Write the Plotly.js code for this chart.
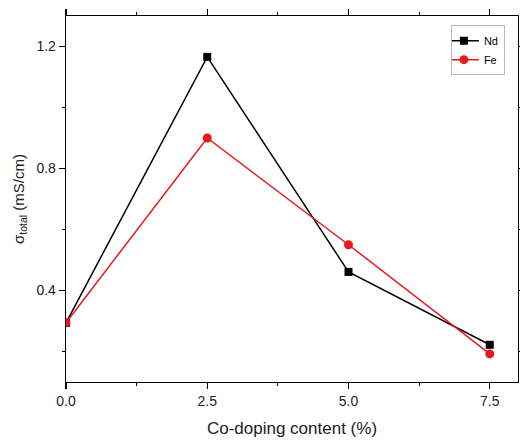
<!DOCTYPE html>
<html><head><meta charset="utf-8">
<script src="https://cdn.plot.ly/plotly-3.0.1.min.js"></script>
<style>body{margin:0;background:#fff}#c{width:520px;height:441px}</style>
</head><body><div id="c"></div>
<script>
const content = [0, 2.5, 5.0, 7.5];
const ndValues = [0.294, 1.166, 0.461, 0.222];
const feValues = [0.294, 0.900, 0.550, 0.192];
const seriesNames = ['Nd', 'Fe'];

const traces = [
  {x: content, y: ndValues, name: seriesNames[0], type: 'scatter', mode: 'lines+markers',
   line: {color: '#000000', width: 1.5}, marker: {symbol: 'square', size: 8, color: '#000000'}},
  {x: content, y: feValues, name: seriesNames[1], type: 'scatter', mode: 'lines+markers',
   line: {color: '#e8191c', width: 1.5}, marker: {symbol: 'circle', size: 9, color: '#e8191c'}}
];
const axisCommon = {showline: true, linecolor: '#000', linewidth: 1.3, mirror: 'ticks',
  ticks: 'outside', ticklen: 6, tickwidth: 1.2, tickcolor: '#000', showgrid: false, zeroline: false,
  tickfont: {family: 'Liberation Sans, Arial, sans-serif', size: 14, color: '#222'}};
const layout = {
  width: 520, height: 441,
  margin: {l: 66, r: 2, t: 16, b: 59},
  paper_bgcolor: '#fff', plot_bgcolor: '#fff',
  showlegend: true,
  legend: {x: 0.971, y: 0.975, xanchor: 'right', yanchor: 'top', bgcolor: '#fff',
    bordercolor: '#bbb', borderwidth: 1, font: {family: 'Liberation Sans, Arial, sans-serif', size: 11, color: '#000'},
    itemwidth: 30, tracegroupgap: 0, indentation: -8},
  xaxis: Object.assign({}, axisCommon, {range: [0, 8.0], tickvals: content, ticktext: ['0.0','2.5','5.0','7.5'],
    minor: {tickvals: [1.25, 3.75, 6.25], ticks: 'outside', ticklen: 3, tickwidth: 1.2, tickcolor: '#000'},
    title: {text: 'Co-doping content (%)', standoff: 14, font: {family: 'Liberation Sans, Arial, sans-serif', size: 17, color: '#222'}}}),
  yaxis: Object.assign({}, axisCommon, {range: [0.1, 1.3], tickvals: [0.4, 0.8, 1.2], ticktext: ['0.4','0.8','1.2'],
    minor: {tickvals: [0.2, 0.6, 1.0], ticks: 'outside', ticklen: 3, tickwidth: 1.2, tickcolor: '#000'},
    title: {text: 'σ<sub>total</sub> (mS/cm)', standoff: 8, font: {family: 'Liberation Sans, Arial, sans-serif', size: 15, color: '#222'}}})
};
Plotly.newPlot('c', traces, layout, {displayModeBar: false, staticPlot: true});
</script></body></html>
